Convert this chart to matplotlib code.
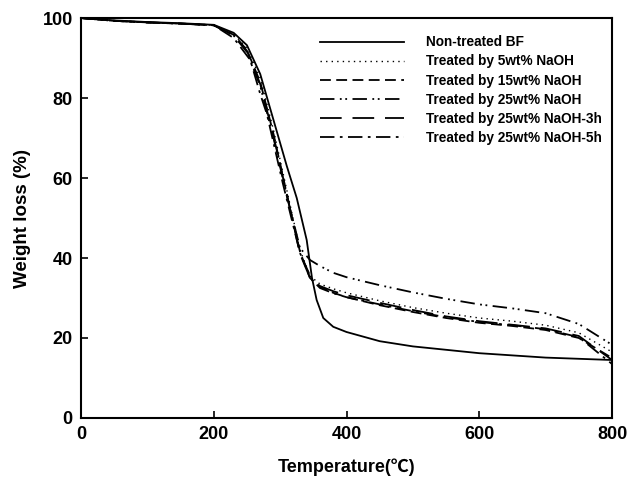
import matplotlib
matplotlib.use("Agg")
import matplotlib.pyplot as plt

# --- data ---
temp_nt = [0, 50, 100, 150, 200, 230, 250, 270, 290, 310, 325, 340, 348, 355, 365, 380, 400, 450, 500, 600, 700, 800]
wl_nt = [100, 99.4, 99.0, 98.7, 98.3, 96.3, 93.2, 86, 74.5, 63, 55, 44.5, 35, 29.5, 25, 22.8, 21.5, 19.2, 17.9, 16.2, 15.1, 14.5]

temp_t = [0, 50, 100, 150, 200, 230, 250, 270, 290, 310, 330, 345, 360, 380, 400, 450, 500, 550, 600, 650, 700, 750, 800]
wl_5 = [100, 99.3, 98.9, 98.6, 98.2, 96, 92.5, 85, 72, 57, 42, 35.5, 33.5, 32.3, 31.3, 29.3, 27.6, 26.2, 25, 24.2, 23.2, 21.3, 16.5]
wl_15 = [100, 99.3, 98.9, 98.6, 98.2, 95.8, 92, 84, 71, 56, 41.5, 35, 32.8, 31.3, 30.2, 28.2, 26.5, 25, 23.8, 23, 22, 20, 15]
wl_25 = [100, 99.3, 98.9, 98.6, 98.2, 95.6, 91.5, 83, 70, 55.5, 42.5, 39.5, 38, 36.3, 35.2, 33.2, 31.4, 29.8, 28.4, 27.4, 26.2, 23.5, 18.3]
wl_25_3h = [100, 99.3, 98.9, 98.6, 98.2, 95.7, 91.8, 83.5, 70.5, 56, 41, 35, 33, 31.7, 30.7, 28.8, 27, 25.4, 24.2, 23.3, 22.4, 20.5, 14.5]

temp_5h = [0, 50, 100, 150, 200, 230, 255, 270, 280, 304, 330, 348, 360, 380, 400, 450, 500, 550, 600, 650, 700, 750, 800]
wl_25_5h = [100, 99.3, 98.9, 98.6, 98.2, 95, 89.5, 81, 76, 58.7, 41.2, 34.5, 32.5, 31.2, 30.2, 28.4, 26.7, 25.2, 24, 23.2, 22.2, 20.2, 13.5]

labels = ['Non-treated BF', 'Treated by 5wt% NaOH', 'Treated by 15wt% NaOH',
          'Treated by 25wt% NaOH', 'Treated by 25wt% NaOH-3h', 'Treated by 25wt% NaOH-5h']
x_ticks = [0, 200, 400, 600, 800]
y_ticks = [0, 20, 40, 60, 80, 100]

plt.rcParams['font.family'] = ['Liberation Sans', 'DejaVu Sans']

fig = plt.figure(figsize=(6.29, 4.87), dpi=100)
ax = fig.add_axes([0.1288, 0.1417, 0.8442, 0.8213])

ax.plot(temp_nt, wl_nt, color='black', lw=1.3, linestyle='-', label=labels[0])
ax.plot(temp_t, wl_5, color='black', lw=1.0, linestyle=(0, (1, 3)), label=labels[1])
ax.plot(temp_t, wl_15, color='black', lw=1.3, linestyle=(0, (6, 3)), label=labels[2])
ax.plot(temp_t, wl_25, color='black', lw=1.3, linestyle=(0, (8, 3, 1, 2, 1, 3)), label=labels[3])
ax.plot(temp_t, wl_25_3h, color='black', lw=1.3, linestyle=(0, (12, 6)), label=labels[4])
ax.plot(temp_5h, wl_25_5h, color='black', lw=1.3, linestyle=(0, (8, 3, 1.5, 3)), label=labels[5])

ax.set_xlim(0, 800)
ax.set_ylim(0, 100)
ax.set_xticks(x_ticks)
ax.set_yticks(y_ticks)
ax.tick_params(direction='in', length=5, width=1.2, labelsize=13, pad=6)
for lab in ax.get_xticklabels() + ax.get_yticklabels():
    lab.set_fontweight('bold')
for sp in ax.spines.values():
    sp.set_linewidth(1.5)

ax.set_xlabel('Temperature(℃)', fontsize=13, fontweight='bold', labelpad=11,
              family=['Liberation Sans', 'Noto Sans CJK SC', 'DejaVu Sans'])
ax.set_ylabel('Weight loss (%)', fontsize=13.5, fontweight='bold', labelpad=8)

leg = ax.legend(loc='upper left', bbox_to_anchor=(0.44, 0.97), frameon=False,
                prop={'weight': 'bold', 'size': 9.8}, handlelength=6.2,
                handletextpad=1.6, labelspacing=0.37, borderaxespad=0)

fig.savefig('out.png', dpi=100)
